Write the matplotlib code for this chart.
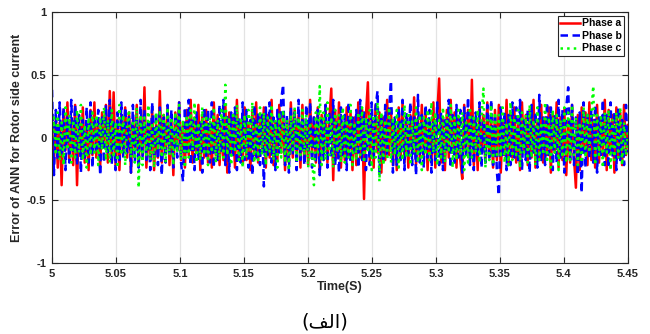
import numpy as np
import matplotlib
matplotlib.use("Agg")
import matplotlib.pyplot as plt

# time span of the record (s)
t_start, t_end = 5.0, 5.45

# errors, in hundredths
phase_a = [6, -20, 16, -24, 12, -38, 22, -10, 28, -18, 14, -22, 26, -38, 18, -12, 24, -20, 10, -26,
           22, -14, 28, -16, 12, -24, 20, -8, 26, -20, 37, -18, 36, -22, 14, -26, 18, -12, 24, -16,
           20, -28, 14, -10, 26, -22, 16, -14, 40, -24, 12, -18, 22, -26, 10, -16, 37, -20, 18, -12,
           24, -22, 14, -30, 20, -10, 28, -18, 12, -24, 22, -14, 30, -20, 16, -12, 26, -26, 18, -16,
           22, -20, 12, -24, 28, -14, 18, -22, 10, -18, 26, -28, 20, -12, 16, -24, 30, -16, 14, -20,
           24, -18, 12, -26, 22, -14, 28, -20, 16, -10, 24, -24, 18, -16, 30, -22, 12, -18, 26, -12,
           20, -26, 14, -20, 28, -16, 22, -12, 18, -24, 26, -18, 12, -22, 30, -14, 16, -20, 24, -28,
           18, -12, 26, -20, 14, 39, -34, 22, -16, 28, -24, 12, -18, 24, -14, 20, -26, 16, -22, 28,
           -16, 22, -49, 18, 44, -20, 14, -24, 26, -12, 20, -28, 16, -18, 30, -14, 22, -22, 12, -26,
           24, -16, 28, -20, 14, -24, 18, -12, 32, -22, 16, -18, 26, -14, 20, -26, 12, -20, 28, -24,
           18, 47, -20, 14, -26, 22, -16, 30, -12, 20, -24, 16, -18, -33, 26, -14, 22, -20, 46, -22,
           16, -26, 24, -12, 18, -20, 28, -16, 14, -24, 22, -18, 26, -28, 12, -14, 30, -22, 20, -16,
           24, -20, 14, -26, 28, -12, 18, -22, 22, -16, 30, -24, 12, -18, 26, -20, 16, -14, 24, -28,
           20, -12, 28, -24, 16, -18, 22, -30, 14, -20, 26, -16, -40, 18, -26, 24, -12, 20, -22, 28,
           -18, 14, -24, 26, -20, 16, -14, 30, -26, 22, -12, 18, -28, 24, -16, 20, -22, 26, -14, 10]

phase_b = [38, -30, 22, -18, 28, -14, 24, -26, 16, -20, 30, -12, 26, -22, 18, -28, 14, -16, 24, -20,
           28, -24, 16, -12, 22, -30, 18, -20, 26, -14, 30, -22, 12, -26, 20, -18, 28, -16, 24, -12,
           18, -28, 26, -20, 14, -24, 30, -16, 22, -18, 12, -26, 28, -14, 20, -22, 24, -30, 16, -20,
           26, -12, 22, -24, 18, -16, 28, -20, -35, 24, -14, 30, -22, 16, -26, 20, -18, 12, -28, 24,
           -16, 22, -20, 28, -24, 14, -18, 26, -12, 30, -22, 18, -28, 20, -14, 24, -26, 16, -20, 28,
           -18, 22, -24, 14, -30, 26, -16, 20, -22, 18, -39, 24, -14, 28, -20, 16, -26, 22, -12, 30,
           42, -22, 18, -28, 24, -14, 20, -26, 30, -18, 16, -22, 26, -12, 28, -24, 18, -20, 22, -30,
           14, -18, 26, -24, 20, -16, 30, -22, 12, -28, 24, -14, 18, -26, 28, -20, 16, -12, 22, -24,
           30, -18, 20, -26, 14, -22, 28, -16, 24, 37, -30, 18, -20, 26, -14, 22, 45, -28, 16, -22,
           24, -18, 30, -26, 20, -14, 28, -22, 16, -30, 34, -20, 18, -24, 26, -16, 22, -28, 14, -18,
           28, -22, 20, -26, 16, -12, 30, -24, 18, -20, 26, -16, 22, -28, 24, -14, 32, -22, 18, -26,
           20, -16, 28, -24, 14, -20, 26, -18, 30, -22, 16, -28, -46, 24, -14, 20, -26, 18, -22, 28,
           -16, 24, -20, 30, -26, 14, -18, 22, -28, 26, -12, 20, -24, 34, -18, 16, -22, 28, -14, 24,
           -26, 18, -20, 30, -16, 22, -28, 24, 40, -18, 26, -22, 16, -30, 20, -44, 28, -24, 18, -16,
           22, -20, 26, -28, 16, -14, 30, -22, 18, -24, 28, -16, 20, -26, 24, -18, 14, -22, 26, -12]

phase_c = [0, 16, -14, 20, -18, 12, -22, 24, -10, 18, -20, 14, -16, 22, -12, 26, -18, 10, -24, 16,
           -14, 20, -12, 18, -22, 16, -10, 24, -18, 14, -20, 22, -16, 12, -24, 26, -14, 18, -22, 10,
           22, -16, 14, -20, 24, -40, 18, -22, 16, -14, 26, -18, 12, -24, 20, -10, 22, -16, 18, -20,
           24, -14, 16, -22, 20, -12, 26, -18, 14, -24, 18, -16, 22, -10, 28, -20, 12, -18, 24, -14,
           18, -22, 16, -12, 24, -20, 14, -18, 22, -16, 42, -14, 16, -22, 20, -12, 26, -18, 14, -24,
           18, -16, 22, -10, 28, -20, 12, -18, 24, -14, 20, -22, 16, -12, 26, -18, 14, -24, 20, -16,
           22, -20, 14, -26, 18, -12, 24, -20, 16, -14, 22, -14, 18, -24, 12, -16, -38, 20, -12, 41,
           -22, 20, -18, 28, -14, 16, -24, 22, -12, 18, -20, 24, -20, 14, -16, 26, -22, 12, -18, 20,
           -14, 24, -20, 16, -12, 22, -26, 18, -16, 28, -35, 20, -22, 14, -18, 24, -20, 16, -14, 22,
           -24, 12, -18, 26, -16, 20, -22, 14, -12, 24, -20, 18, -26, 16, -14, 22, -18, 28, -12, 20,
           -22, 14, -16, 24, -20, 18, -12, 26, -24, 16, -18, 22, -14, 20, -26, 12, -20, 24, -16, 18,
           -12, 22, -20, 16, 39, -24, 14, -18, 26, -22, 20, -14, 18, -16, 24, -20, 12, -22, 28, -18,
           16, -14, 22, -24, 20, -12, 18, -20, 26, -16, 14, -22, 24, -18, 12, -14, 28, -20, 16, -24,
           22, -12, 18, -26, 14, -16, 24, -20, 20, -18, 26, -14, 16, -22, 12, -20, 24, -16, 18, -12,
           20, 41, -22, 18, -14, 16, -24, 20, -12, 22, -26, 14, -18, 20, -16, 24, -22, 12, -14, 6]

labels = ["Phase a", "Phase b", "Phase c"]
xticks = [5, 5.05, 5.1, 5.15, 5.2, 5.25, 5.3, 5.35, 5.4, 5.45]
xtick_labels = ["5", "5.05", "5.1", "5.15", "5.2", "5.25", "5.3", "5.35", "5.4", "5.45"]
yticks = [-1, -0.5, 0, 0.5, 1]
ytick_labels = ["-1", "-0.5", "0", "0.5", "1"]

plt.rcParams["font.family"] = ["Liberation Sans", "DejaVu Sans"]

fig = plt.figure(figsize=(6.5, 3.34), dpi=100)
ax = fig.add_axes([0.08, 0.2126, 0.886, 0.7514])

styles = [dict(color=(1, 0, 0), ls="-"),
          dict(color=(0, 0, 1), ls="--", dashes=(3.0, 1.8)),
          dict(color=(0, 1, 0), ls=":")]
for vals, lab, st in zip([phase_a, phase_b, phase_c], labels, styles):
    t = np.linspace(t_start, t_end, len(vals))
    ax.plot(t, np.array(vals) / 100.0, lw=1.8, label=lab, **st)

ax.set_xlim(t_start, t_end)
ax.set_ylim(-1, 1)
ax.set_xticks(xticks)
ax.set_xticklabels(xtick_labels)
ax.set_yticks(yticks)
ax.set_yticklabels(ytick_labels)
ax.grid(True, color="#e3e3e3", lw=0.9)
ax.set_axisbelow(True)
ax.tick_params(direction="in", top=True, right=True, length=4, width=0.8,
               labelsize=8, colors="#262626", pad=4)
for lab in ax.get_xticklabels() + ax.get_yticklabels():
    lab.set_fontweight("bold")
for sp in ax.spines.values():
    sp.set_color("#262626")
    sp.set_linewidth(0.8)

ax.set_xlabel("Time(S)", fontsize=9, fontweight="bold", color="#262626", labelpad=2)
ax.set_ylabel("Error of ANN for Rotor side current", fontsize=9, fontweight="bold",
              color="#262626", labelpad=3)

leg = ax.legend(loc="upper right", prop={"weight": "bold", "size": 7.5},
                fancybox=False, framealpha=1, edgecolor="#262626",
                borderaxespad=0.35, handlelength=1.9, handletextpad=0.15,
                labelspacing=0.25, borderpad=0.25)
leg.get_frame().set_linewidth(0.8)

# caption (alef-lam-feh, laid out visually)
fig.text(0.5, 0.037, "(\ufed2\ufedf\u0627)", ha="center", va="center", fontsize=14,
         family=["DejaVu Sans"])

fig.savefig("out.png", dpi=100)
